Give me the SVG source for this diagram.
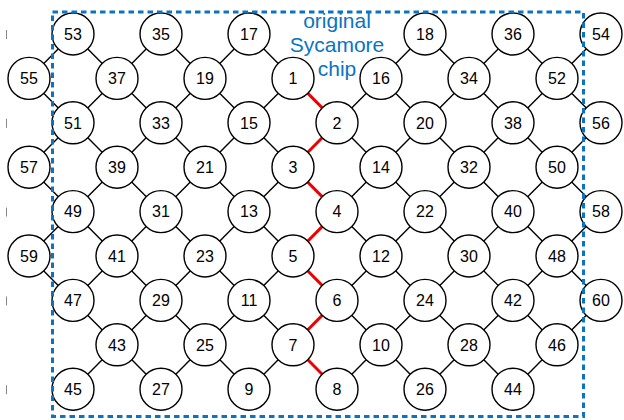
<svg xmlns="http://www.w3.org/2000/svg" width="624" height="420" viewBox="0 0 624 420">
<style>
.n circle{fill:#fff;stroke:#000;stroke-width:1.4}
.n text{font-family:"Liberation Sans",Arial,sans-serif;font-size:16px;fill:#000;text-anchor:middle}
.e line{stroke:#000;stroke-width:1.4}
.e line.r{stroke:#ee0000;stroke-width:3}
.tick{stroke:#888;stroke-width:1}
.lbl{font-family:"Liberation Sans",Arial,sans-serif;font-size:21px;fill:#0A74C2;text-anchor:middle}
</style>
<rect width="624" height="420" fill="#fff"/>
<g id="ticks">
<line class="tick" x1="6.5" y1="30" x2="6.5" y2="39"/>
<line class="tick" x1="6.5" y1="118.8" x2="6.5" y2="127.8"/>
<line class="tick" x1="6.5" y1="207.6" x2="6.5" y2="216.6"/>
<line class="tick" x1="6.5" y1="296.4" x2="6.5" y2="305.4"/>
<line class="tick" x1="6.5" y1="385.2" x2="6.5" y2="394.2"/>
</g>
<g id="connectors" class="e">
<!-- r0-r1 -->
<line x1="73" y1="34" x2="29" y2="78.4"/><line x1="73" y1="34" x2="117" y2="78.4"/>
<line x1="161" y1="34" x2="117" y2="78.4"/><line x1="161" y1="34" x2="205" y2="78.4"/>
<line x1="249" y1="34" x2="205" y2="78.4"/><line x1="249" y1="34" x2="293" y2="78.4"/>
<line x1="425" y1="34" x2="381" y2="78.4"/><line x1="425" y1="34" x2="469" y2="78.4"/>
<line x1="513" y1="34" x2="469" y2="78.4"/><line x1="513" y1="34" x2="557" y2="78.4"/>
<line x1="601" y1="34" x2="557" y2="78.4"/>
<!-- r1-r2 -->
<line x1="29" y1="78.4" x2="73" y2="122.8"/>
<line x1="117" y1="78.4" x2="73" y2="122.8"/><line x1="117" y1="78.4" x2="161" y2="122.8"/>
<line x1="205" y1="78.4" x2="161" y2="122.8"/><line x1="205" y1="78.4" x2="249" y2="122.8"/>
<line x1="293" y1="78.4" x2="249" y2="122.8"/>
<line x1="381" y1="78.4" x2="337" y2="122.8"/><line x1="381" y1="78.4" x2="425" y2="122.8"/>
<line x1="469" y1="78.4" x2="425" y2="122.8"/><line x1="469" y1="78.4" x2="513" y2="122.8"/>
<line x1="557" y1="78.4" x2="513" y2="122.8"/><line x1="557" y1="78.4" x2="601" y2="122.8"/>
<!-- r2-r3 -->
<line x1="73" y1="122.8" x2="29" y2="167.2"/><line x1="73" y1="122.8" x2="117" y2="167.2"/>
<line x1="161" y1="122.8" x2="117" y2="167.2"/><line x1="161" y1="122.8" x2="205" y2="167.2"/>
<line x1="249" y1="122.8" x2="205" y2="167.2"/><line x1="249" y1="122.8" x2="293" y2="167.2"/>
<line x1="337" y1="122.8" x2="381" y2="167.2"/>
<line x1="425" y1="122.8" x2="381" y2="167.2"/><line x1="425" y1="122.8" x2="469" y2="167.2"/>
<line x1="513" y1="122.8" x2="469" y2="167.2"/><line x1="513" y1="122.8" x2="557" y2="167.2"/>
<line x1="601" y1="122.8" x2="557" y2="167.2"/>
<!-- r3-r4 -->
<line x1="29" y1="167.2" x2="73" y2="211.6"/>
<line x1="117" y1="167.2" x2="73" y2="211.6"/><line x1="117" y1="167.2" x2="161" y2="211.6"/>
<line x1="205" y1="167.2" x2="161" y2="211.6"/><line x1="205" y1="167.2" x2="249" y2="211.6"/>
<line x1="293" y1="167.2" x2="249" y2="211.6"/>
<line x1="381" y1="167.2" x2="337" y2="211.6"/><line x1="381" y1="167.2" x2="425" y2="211.6"/>
<line x1="469" y1="167.2" x2="425" y2="211.6"/><line x1="469" y1="167.2" x2="513" y2="211.6"/>
<line x1="557" y1="167.2" x2="513" y2="211.6"/><line x1="557" y1="167.2" x2="601" y2="211.6"/>
<!-- r4-r5 -->
<line x1="73" y1="211.6" x2="29" y2="256"/><line x1="73" y1="211.6" x2="117" y2="256"/>
<line x1="161" y1="211.6" x2="117" y2="256"/><line x1="161" y1="211.6" x2="205" y2="256"/>
<line x1="249" y1="211.6" x2="205" y2="256"/><line x1="249" y1="211.6" x2="293" y2="256"/>
<line x1="337" y1="211.6" x2="381" y2="256"/>
<line x1="425" y1="211.6" x2="381" y2="256"/><line x1="425" y1="211.6" x2="469" y2="256"/>
<line x1="513" y1="211.6" x2="469" y2="256"/><line x1="513" y1="211.6" x2="557" y2="256"/>
<line x1="601" y1="211.6" x2="557" y2="256"/>
<!-- r5-r6 -->
<line x1="29" y1="256" x2="73" y2="300.4"/>
<line x1="117" y1="256" x2="73" y2="300.4"/><line x1="117" y1="256" x2="161" y2="300.4"/>
<line x1="205" y1="256" x2="161" y2="300.4"/><line x1="205" y1="256" x2="249" y2="300.4"/>
<line x1="293" y1="256" x2="249" y2="300.4"/>
<line x1="381" y1="256" x2="337" y2="300.4"/><line x1="381" y1="256" x2="425" y2="300.4"/>
<line x1="469" y1="256" x2="425" y2="300.4"/><line x1="469" y1="256" x2="513" y2="300.4"/>
<line x1="557" y1="256" x2="513" y2="300.4"/><line x1="557" y1="256" x2="601" y2="300.4"/>
<!-- r6-r7 -->
<line x1="73" y1="300.4" x2="117" y2="344.8"/>
<line x1="161" y1="300.4" x2="117" y2="344.8"/><line x1="161" y1="300.4" x2="205" y2="344.8"/>
<line x1="249" y1="300.4" x2="205" y2="344.8"/><line x1="249" y1="300.4" x2="293" y2="344.8"/>
<line x1="337" y1="300.4" x2="381" y2="344.8"/>
<line x1="425" y1="300.4" x2="381" y2="344.8"/><line x1="425" y1="300.4" x2="469" y2="344.8"/>
<line x1="513" y1="300.4" x2="469" y2="344.8"/><line x1="513" y1="300.4" x2="557" y2="344.8"/>
<line x1="601" y1="300.4" x2="557" y2="344.8"/>
<!-- r7-r8 -->
<line x1="117" y1="344.8" x2="73" y2="389.2"/><line x1="117" y1="344.8" x2="161" y2="389.2"/>
<line x1="205" y1="344.8" x2="161" y2="389.2"/><line x1="205" y1="344.8" x2="249" y2="389.2"/>
<line x1="293" y1="344.8" x2="249" y2="389.2"/>
<line x1="381" y1="344.8" x2="337" y2="389.2"/><line x1="381" y1="344.8" x2="425" y2="389.2"/>
<line x1="469" y1="344.8" x2="425" y2="389.2"/><line x1="469" y1="344.8" x2="513" y2="389.2"/>
<line x1="557" y1="344.8" x2="513" y2="389.2"/>
<!-- red path -->
<line class="r" x1="293" y1="78.4" x2="337" y2="122.8"/>
<line class="r" x1="337" y1="122.8" x2="293" y2="167.2"/>
<line class="r" x1="293" y1="167.2" x2="337" y2="211.6"/>
<line class="r" x1="337" y1="211.6" x2="293" y2="256"/>
<line class="r" x1="293" y1="256" x2="337" y2="300.4"/>
<line class="r" x1="337" y1="300.4" x2="293" y2="344.8"/>
<line class="r" x1="293" y1="344.8" x2="337" y2="389.2"/>
</g>
<g id="n53" class="n"><circle cx="73" cy="34" r="21"/><text x="73" y="39.7">53</text></g>
<g id="n35" class="n"><circle cx="161" cy="34" r="21"/><text x="161" y="39.7">35</text></g>
<g id="n17" class="n"><circle cx="249" cy="34" r="21"/><text x="249" y="39.7">17</text></g>
<g id="n18" class="n"><circle cx="425" cy="34" r="21"/><text x="425" y="39.7">18</text></g>
<g id="n36" class="n"><circle cx="513" cy="34" r="21"/><text x="513" y="39.7">36</text></g>
<g id="n54" class="n"><circle cx="601" cy="34" r="21"/><text x="601" y="39.7">54</text></g>
<g id="n55" class="n"><circle cx="29" cy="78.4" r="21"/><text x="29" y="84.1">55</text></g>
<g id="n37" class="n"><circle cx="117" cy="78.4" r="21"/><text x="117" y="84.1">37</text></g>
<g id="n19" class="n"><circle cx="205" cy="78.4" r="21"/><text x="205" y="84.1">19</text></g>
<g id="n1" class="n"><circle cx="293" cy="78.4" r="21"/><text x="293" y="84.1">1</text></g>
<g id="n16" class="n"><circle cx="381" cy="78.4" r="21"/><text x="381" y="84.1">16</text></g>
<g id="n34" class="n"><circle cx="469" cy="78.4" r="21"/><text x="469" y="84.1">34</text></g>
<g id="n52" class="n"><circle cx="557" cy="78.4" r="21"/><text x="557" y="84.1">52</text></g>
<g id="n51" class="n"><circle cx="73" cy="122.8" r="21"/><text x="73" y="128.5">51</text></g>
<g id="n33" class="n"><circle cx="161" cy="122.8" r="21"/><text x="161" y="128.5">33</text></g>
<g id="n15" class="n"><circle cx="249" cy="122.8" r="21"/><text x="249" y="128.5">15</text></g>
<g id="n2" class="n"><circle cx="337" cy="122.8" r="21"/><text x="337" y="128.5">2</text></g>
<g id="n20" class="n"><circle cx="425" cy="122.8" r="21"/><text x="425" y="128.5">20</text></g>
<g id="n38" class="n"><circle cx="513" cy="122.8" r="21"/><text x="513" y="128.5">38</text></g>
<g id="n56" class="n"><circle cx="601" cy="122.8" r="21"/><text x="601" y="128.5">56</text></g>
<g id="n57" class="n"><circle cx="29" cy="167.2" r="21"/><text x="29" y="172.9">57</text></g>
<g id="n39" class="n"><circle cx="117" cy="167.2" r="21"/><text x="117" y="172.9">39</text></g>
<g id="n21" class="n"><circle cx="205" cy="167.2" r="21"/><text x="205" y="172.9">21</text></g>
<g id="n3" class="n"><circle cx="293" cy="167.2" r="21"/><text x="293" y="172.9">3</text></g>
<g id="n14" class="n"><circle cx="381" cy="167.2" r="21"/><text x="381" y="172.9">14</text></g>
<g id="n32" class="n"><circle cx="469" cy="167.2" r="21"/><text x="469" y="172.9">32</text></g>
<g id="n50" class="n"><circle cx="557" cy="167.2" r="21"/><text x="557" y="172.9">50</text></g>
<g id="n49" class="n"><circle cx="73" cy="211.6" r="21"/><text x="73" y="217.3">49</text></g>
<g id="n31" class="n"><circle cx="161" cy="211.6" r="21"/><text x="161" y="217.3">31</text></g>
<g id="n13" class="n"><circle cx="249" cy="211.6" r="21"/><text x="249" y="217.3">13</text></g>
<g id="n4" class="n"><circle cx="337" cy="211.6" r="21"/><text x="337" y="217.3">4</text></g>
<g id="n22" class="n"><circle cx="425" cy="211.6" r="21"/><text x="425" y="217.3">22</text></g>
<g id="n40" class="n"><circle cx="513" cy="211.6" r="21"/><text x="513" y="217.3">40</text></g>
<g id="n58" class="n"><circle cx="601" cy="211.6" r="21"/><text x="601" y="217.3">58</text></g>
<g id="n59" class="n"><circle cx="29" cy="256" r="21"/><text x="29" y="261.7">59</text></g>
<g id="n41" class="n"><circle cx="117" cy="256" r="21"/><text x="117" y="261.7">41</text></g>
<g id="n23" class="n"><circle cx="205" cy="256" r="21"/><text x="205" y="261.7">23</text></g>
<g id="n5" class="n"><circle cx="293" cy="256" r="21"/><text x="293" y="261.7">5</text></g>
<g id="n12" class="n"><circle cx="381" cy="256" r="21"/><text x="381" y="261.7">12</text></g>
<g id="n30" class="n"><circle cx="469" cy="256" r="21"/><text x="469" y="261.7">30</text></g>
<g id="n48" class="n"><circle cx="557" cy="256" r="21"/><text x="557" y="261.7">48</text></g>
<g id="n47" class="n"><circle cx="73" cy="300.4" r="21"/><text x="73" y="306.1">47</text></g>
<g id="n29" class="n"><circle cx="161" cy="300.4" r="21"/><text x="161" y="306.1">29</text></g>
<g id="n11" class="n"><circle cx="249" cy="300.4" r="21"/><text x="249" y="306.1">11</text></g>
<g id="n6" class="n"><circle cx="337" cy="300.4" r="21"/><text x="337" y="306.1">6</text></g>
<g id="n24" class="n"><circle cx="425" cy="300.4" r="21"/><text x="425" y="306.1">24</text></g>
<g id="n42" class="n"><circle cx="513" cy="300.4" r="21"/><text x="513" y="306.1">42</text></g>
<g id="n60" class="n"><circle cx="601" cy="300.4" r="21"/><text x="601" y="306.1">60</text></g>
<g id="n43" class="n"><circle cx="117" cy="344.8" r="21"/><text x="117" y="350.5">43</text></g>
<g id="n25" class="n"><circle cx="205" cy="344.8" r="21"/><text x="205" y="350.5">25</text></g>
<g id="n7" class="n"><circle cx="293" cy="344.8" r="21"/><text x="293" y="350.5">7</text></g>
<g id="n10" class="n"><circle cx="381" cy="344.8" r="21"/><text x="381" y="350.5">10</text></g>
<g id="n28" class="n"><circle cx="469" cy="344.8" r="21"/><text x="469" y="350.5">28</text></g>
<g id="n46" class="n"><circle cx="557" cy="344.8" r="21"/><text x="557" y="350.5">46</text></g>
<g id="n45" class="n"><circle cx="73" cy="389.2" r="21"/><text x="73" y="394.9">45</text></g>
<g id="n27" class="n"><circle cx="161" cy="389.2" r="21"/><text x="161" y="394.9">27</text></g>
<g id="n9" class="n"><circle cx="249" cy="389.2" r="21"/><text x="249" y="394.9">9</text></g>
<g id="n8" class="n"><circle cx="337" cy="389.2" r="21"/><text x="337" y="394.9">8</text></g>
<g id="n26" class="n"><circle cx="425" cy="389.2" r="21"/><text x="425" y="394.9">26</text></g>
<g id="n44" class="n"><circle cx="513" cy="389.2" r="21"/><text x="513" y="394.9">44</text></g>
<g id="chip">
<rect x="52.5" y="12" width="531" height="404.5" fill="none" stroke="#0A74C2" stroke-width="3" stroke-dasharray="5.5 4"/>
<text class="lbl" x="337" y="28">original</text>
<text class="lbl" x="337" y="52">Sycamore</text>
<text class="lbl" x="337" y="76">chip</text>
</g>
</svg>
